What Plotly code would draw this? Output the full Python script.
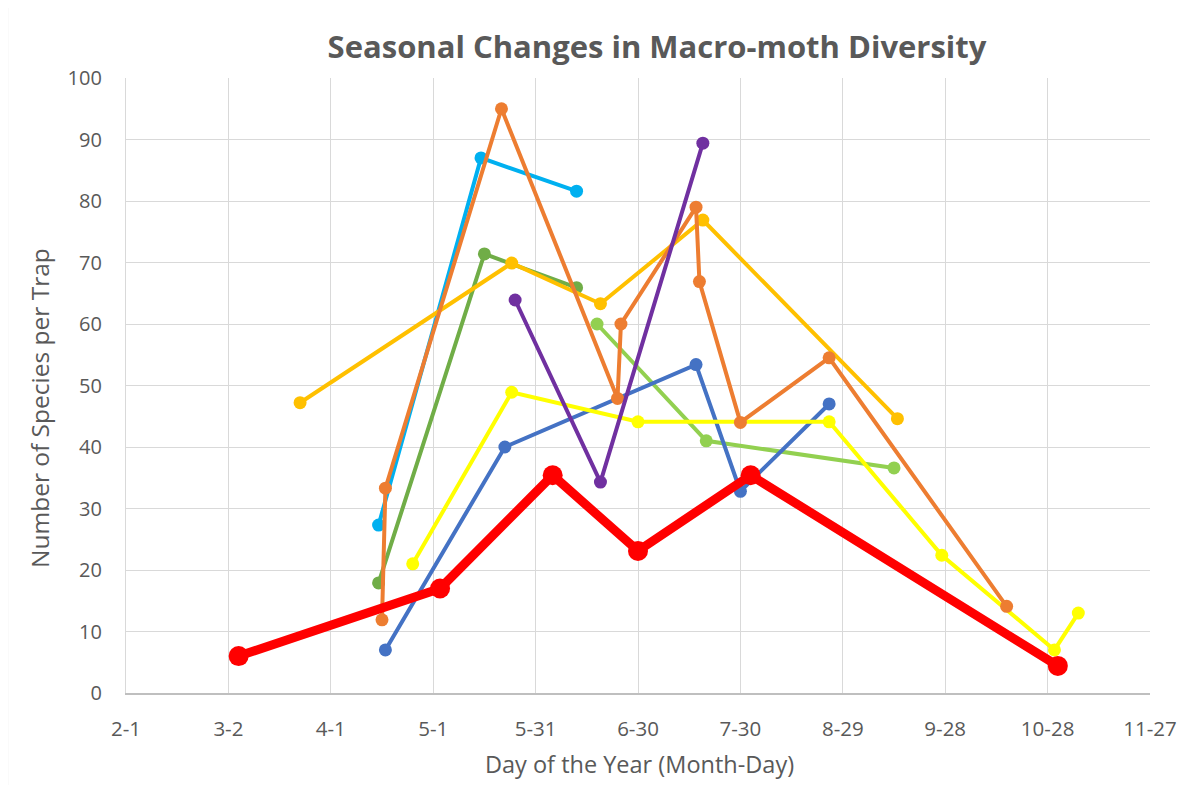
import plotly.graph_objects as go

# Dates (2016) and species counts per series
blue_x = ["2016-04-17", "2016-05-22", "2016-07-17", "2016-07-30", "2016-08-25"]
blue_y = [7.0, 40.0, 53.4, 32.8, 47.0]

lightblue_x = ["2016-04-15", "2016-05-15", "2016-06-12"]
lightblue_y = [27.3, 87.0, 81.6]

green_x = ["2016-04-15", "2016-05-16", "2016-06-12"]
green_y = [17.9, 71.4, 65.9]

gold_x = ["2016-03-23", "2016-05-24", "2016-06-19", "2016-07-19", "2016-09-14"]
gold_y = [47.2, 69.9, 63.3, 76.9, 44.6]

lightgreen_x = ["2016-06-18", "2016-07-20", "2016-09-13"]
lightgreen_y = [60.0, 41.0, 36.6]

purple_x = ["2016-05-25", "2016-06-19", "2016-07-19"]
purple_y = [63.9, 34.3, 89.4]

orange_x = ["2016-04-16", "2016-04-17", "2016-05-21", "2016-06-24", "2016-06-25",
            "2016-07-17", "2016-07-18", "2016-07-30", "2016-08-25", "2016-10-16"]
orange_y = [11.9, 33.3, 95.0, 47.9, 60.0, 79.0, 66.9, 44.0, 54.5, 14.1]

yellow_x = ["2016-04-25", "2016-05-24", "2016-06-30", "2016-08-25", "2016-09-27",
            "2016-10-30", "2016-11-06"]
yellow_y = [21.0, 48.9, 44.1, 44.1, 22.4, 7.0, 13.0]

red_x = ["2016-03-05", "2016-05-03", "2016-06-05", "2016-06-30", "2016-08-02", "2016-10-31"]
red_y = [6.0, 17.0, 35.4, 23.1, 35.4, 4.4]

tick_vals = ["2016-02-01", "2016-03-02", "2016-04-01", "2016-05-01", "2016-05-31",
             "2016-06-30", "2016-07-30", "2016-08-29", "2016-09-28", "2016-10-28",
             "2016-11-27"]
tick_text = ["2-1", "3-2", "4-1", "5-1", "5-31", "6-30", "7-30", "8-29", "9-28",
             "10-28", "11-27"]

series = [
    (lightblue_x, lightblue_y, "#00B0F0"),
    (green_x, green_y, "#70AD47"),
    (gold_x, gold_y, "#FFC000"),
    (lightgreen_x, lightgreen_y, "#92D050"),
    (blue_x, blue_y, "#4472C4"),
    (yellow_x, yellow_y, "#FFFF00"),
    (orange_x, orange_y, "#ED7D31"),
    (purple_x, purple_y, "#7030A0"),
]

fig = go.Figure()
for xs, ys, c in series:
    fig.add_trace(go.Scatter(x=xs, y=ys, mode="lines+markers",
                             line=dict(color=c, width=4),
                             marker=dict(color=c, size=13),
                             showlegend=False, hoverinfo="x+y"))
fig.add_trace(go.Scatter(x=red_x, y=red_y, mode="lines+markers",
                         line=dict(color="#FF0000", width=9),
                         marker=dict(color="#FF0000", size=20),
                         showlegend=False))

# page body has an 8px margin: figure is offset by 8px
OFF = 8
W, H = 1181, 777
L, R, T, B = 118, 39, 70, 92
pw, ph = W - L - R, H - T - B


def px_to_paper_x(px):
    return (px - OFF - L) / pw


def px_to_paper_y(py):
    return (T + ph - (py - OFF)) / ph


font_family = "Open Sans, Noto Sans, sans-serif"
fig.update_layout(
    width=W, height=H,
    margin=dict(l=L, r=R, t=T, b=B, autoexpand=False),
    paper_bgcolor="white", plot_bgcolor="white",
    font=dict(family=font_family, color="#595959", size=18),
    title=dict(text="<b>Seasonal Changes in Macro-moth Diversity</b>",
               x=(657 - OFF) / W, xanchor="center", y=1 - (47 - OFF) / H, yanchor="middle",
               font=dict(size=31, color="#595959", family=font_family)),
    showlegend=False,
)
fig.update_xaxes(
    type="date", range=["2016-02-01", "2016-11-27"],
    tickvals=tick_vals, ticktext=tick_text,
    showgrid=True, gridcolor="#D9D9D9", gridwidth=1.3,
    showline=True, linecolor="#BFBFBF", linewidth=1.5,
    ticks="", ticklabelstandoff=17, tickfont=dict(size=20.5),
    mirror=False, zeroline=False, automargin=False,
)
fig.update_yaxes(
    range=[0, 100], dtick=10, tick0=0,
    showgrid=True, gridcolor="#D9D9D9", gridwidth=1.3,
    showline=True, linecolor="#D9D9D9", linewidth=1.3,
    ticks="", ticklabelstandoff=19, tickfont=dict(size=20),
    zeroline=False, automargin=False,
)
# Axis titles as annotations for exact placement
fig.add_annotation(text="Day of the Year (Month-Day)", xref="paper", yref="paper",
                   x=px_to_paper_x(639), y=px_to_paper_y(764),
                   xanchor="center", yanchor="middle", showarrow=False,
                   font=dict(size=23.5, color="#595959", family=font_family))
fig.add_annotation(text="Number of Species per Trap", xref="paper", yref="paper",
                   x=px_to_paper_x(39), y=px_to_paper_y(408), textangle=-90,
                   xanchor="center", yanchor="middle", showarrow=False,
                   font=dict(size=24.5, color="#595959", family=font_family))
# Outer chart border (only left and top edges visible in view)
fig.add_shape(type="rect", xref="paper", yref="paper",
              x0=px_to_paper_x(7.5), x1=px_to_paper_x(1250),
              y0=px_to_paper_y(850), y1=px_to_paper_y(5.5),
              line=dict(color="#D9D9D9", width=1.3), fillcolor="rgba(0,0,0,0)",
              layer="below")

fig.write_html("out.html")
